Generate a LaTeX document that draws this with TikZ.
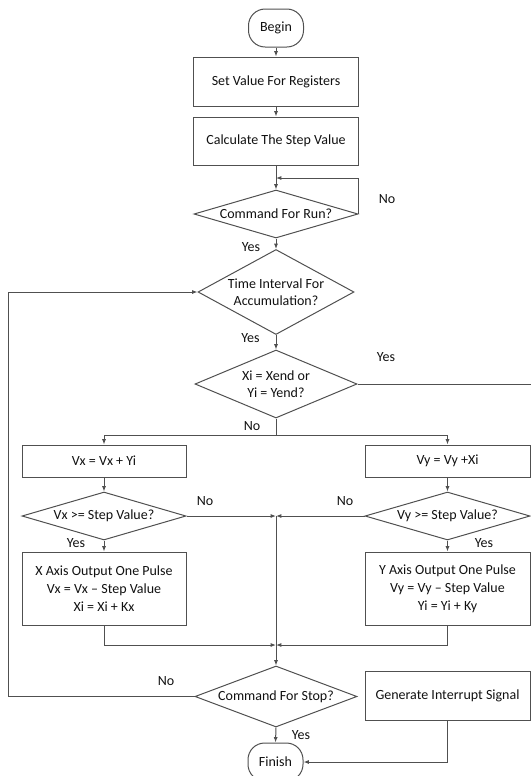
\documentclass[tikz,border=0pt]{standalone}
\usepackage{fontspec}
\setmainfont{Carlito}
\usetikzlibrary{shapes.geometric,arrows.meta}
\definecolor{lncol}{HTML}{505050}
\definecolor{txcol}{HTML}{111111}
\begin{document}
\begin{tikzpicture}[x=0.75pt,y=-0.75pt,
  every node/.style={font=\fontsize{10.5}{13}\selectfont, text=txcol},
  ln/.style={draw=lncol, line width=0.75pt},
  arr/.style={ln, -{Latex[length=4pt,width=3pt]}},
  box/.style={draw=lncol, line width=0.75pt, rectangle, inner sep=0pt, align=center},
  term/.style={box, rounded corners=12.5pt},
  dec/.style={draw=lncol, line width=0.75pt, diamond, inner sep=0pt},
  dtext/.style={align=center, inner sep=0pt}
]
\useasboundingbox (0,0) rectangle (531,776);
\clip (0,0) rectangle (531,776);

% nodes
\node[term, minimum width=41.25pt, minimum height=28.5pt] (begin) at (276,28) {Begin};
\node[box, minimum width=123.75pt, minimum height=36.75pt] (setv) at (276,81.5) {Set Value For Registers};
\node[box, minimum width=123.75pt, minimum height=36pt] (calc) at (276,141) {Calculate The Step Value};
\node[dec, minimum width=123pt, minimum height=36pt] (run) at (276,214) {};
\node[dtext] at (run) {Command For Run?};
\node[dec, minimum width=117pt, minimum height=63.75pt] (time) at (276,292) {};
\node[dtext] at (time) {Time Interval For\\Accumulation?};
\node[dec, minimum width=121.5pt, minimum height=51pt] (xi) at (276,384) {};
\node[dtext] at (xi) {Xi = Xend or\\Yi = Yend?};
\node[box, minimum width=123pt, minimum height=24pt] (vx) at (104,461) {Vx = Vx + Yi};
\node[box, minimum width=123.75pt, minimum height=24pt] (vy) at (447.5,461) {Vy = Vy +Xi};
\node[dec, minimum width=123pt, minimum height=36pt] (vxd) at (104,516) {};
\node[dtext] at (vxd) {Vx >= Step Value?};
\node[dec, minimum width=123.75pt, minimum height=36pt] (vyd) at (447.5,516) {};
\node[dtext] at (vyd) {Vy >= Step Value?};
\node[box, minimum width=123pt, minimum height=54.75pt, font=\fontsize{10.5}{13.4}\selectfont] (xax) at (104,588.5) {X Axis Output One Pulse\\Vx = Vx – Step Value\\Xi = Xi + Kx};
\node[box, minimum width=123.75pt, minimum height=54.75pt, font=\fontsize{10.5}{13.4}\selectfont] (yax) at (447.5,588.5) {Y Axis Output One Pulse\\Vy = Vy – Step Value\\Yi = Yi + Ky};
\node[dec, minimum width=121.5pt, minimum height=45.75pt] (stop) at (276,696.5) {};
\node[dtext] at (stop) {Command For Stop?};
\node[box, minimum width=123.75pt, minimum height=36.75pt] (gen) at (447.5,696) {Generate Interrupt Signal};
\node[term, minimum width=41.25pt, minimum height=28.5pt] (finish) at (275.5,762) {Finish};

% helper coordinates
\coordinate (loop) at (276,178);
\coordinate (split) at (276,435);
\coordinate (sl) at (104,435);
\coordinate (sr) at (447.5,435);
\coordinate (mid) at (276,516);
\coordinate (join) at (276,645);
\coordinate (offr) at (548,384);

% connectors
\draw[arr] (begin.south) -- (setv.north);
\draw[arr] (setv.south) -- (calc.north);
\draw[arr] (calc.south) -- (run.north);
\draw[arr] (run.east) |- (loop);
\draw[arr] (run.south) -- (time.north);
\draw[arr] (time.south) -- (xi.north);
\draw[ln] (xi.south) -- (split);
\draw[ln] (sl) -- (sr);
\draw[arr] (sl) -- (vx.north);
\draw[arr] (sr) -- (vy.north);
\draw[arr] (vx.south) -- (vxd.north);
\draw[arr] (vy.south) -- (vyd.north);
\draw[arr] (vxd.east) -- (mid);
\draw[arr] (vyd.west) -- (mid);
\draw[arr] (vxd.south) -- (xax.north);
\draw[arr] (vyd.south) -- (yax.north);
\draw[arr] (xax.south) |- (join);
\draw[arr] (yax.south) |- (join);
\draw[arr] (mid) -- (stop.north);
\draw[arr] (stop.west) -- ++(-186.5,0) |- (time.west);
\draw[arr] (stop.south) -- (finish.north);
\draw[arr] (gen.south) |- (finish.east);
\draw[arr] (xi.east) -- (offr) |- (gen.east);

% labels
\node at (387,199) {No};
\node at (251,247) {Yes};
\node at (250.5,338) {Yes};
\node at (386,357) {Yes};
\node at (252,426) {No};
\node at (205,501) {No};
\node at (345,501) {No};
\node at (76,543) {Yes};
\node at (484,543) {Yes};
\node at (166,681) {No};
\node at (301,735) {Yes};
\end{tikzpicture}
\end{document}
